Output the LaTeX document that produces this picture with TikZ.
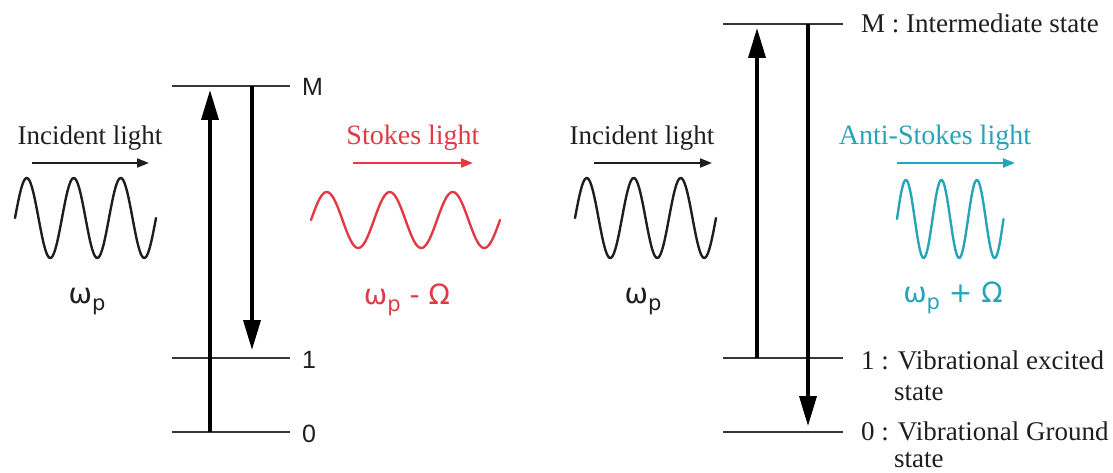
\documentclass[tikz,border=0pt]{standalone}
\usepackage{fontspec}
\setmainfont{Liberation Serif}
\newfontfamily\lsans{Liberation Sans}
\newfontfamily\dsans{DejaVu Sans}
\usetikzlibrary{arrows.meta}
\definecolor{stokesred}{RGB}{226,58,68}
\definecolor{ascyan}{RGB}{38,164,184}
\definecolor{levelgray}{RGB}{55,55,55}
\definecolor{inkblack}{RGB}{30,30,30}
\newcommand\myomegap{ω\raisebox{-7pt}{\fontsize{21}{21}\selectfont p}}
\begin{document}
\begin{tikzpicture}[x=1pt,y=-1pt,
  level/.style={draw=levelgray,line width=2.8pt},
  trans/.style={draw=black,line width=3.6pt,-{Triangle[length=30pt,width=17pt]}},
  dirarrow/.style={line width=2pt,-{Triangle[length=12pt,width=9pt]}},
  wave/.style={line width=2.4pt,line join=round,line cap=round},
  serif/.style={font=\fontsize{27}{32}\selectfont,inner sep=0pt,text=inkblack},
  coltext/.style={font=\fontsize{28}{32}\selectfont,inner sep=0pt},
  levnum/.style={font=\lsans\fontsize{25}{28}\selectfont,inner sep=0pt,text=inkblack},
  freq/.style={font=\dsans\fontsize{28}{32}\selectfont,inner sep=0pt}]
\useasboundingbox (0,0) rectangle (1113,473);

% ---------------- Left: Stokes ----------------
\coordinate (LM-w) at (172,86);  \coordinate (LM-e) at (290,86);
\coordinate (L1-w) at (172,358); \coordinate (L1-e) at (290,358);
\coordinate (L0-w) at (172,432); \coordinate (L0-e) at (290,432);
\draw[level] (LM-w) -- (LM-e);
\draw[level] (L1-w) -- (L1-e);
\draw[level] (L0-w) -- (L0-e);
\node[levnum,anchor=west] (LMlab) at (302,87) {M};
\node[levnum,anchor=west] (L1lab) at (302,360) {1};
\node[levnum,anchor=west] (L0lab) at (302,434) {0};

\coordinate (Lup-s) at (210,432); \coordinate (Lup-e) at (210,90);
\coordinate (Ldn-s) at (252,86);  \coordinate (Ldn-e) at (252,350);
\draw[trans] (Lup-s) -- (Lup-e);
\draw[trans] (Ldn-s) -- (Ldn-e);

\node[serif,anchor=base] (inc1) at (90,145) {Incident light};
\coordinate (inc1-a) at (32,163); \coordinate (inc1-b) at (149,163);
\draw[dirarrow,draw=inkblack,fill=inkblack] (inc1-a) -- (inc1-b);
\draw[wave,draw=inkblack] plot[domain=15:156,samples=140,smooth] (\x,{218-40*sin((\x-15)/47*360)});
\node[freq,anchor=base,text=inkblack] (w1) at (87,303) {\myomegap};

\node[coltext,anchor=base,text=stokesred] (stk) at (413,145) {Stokes light};
\coordinate (stk-a) at (353,163); \coordinate (stk-b) at (473,163);
\draw[dirarrow,draw=stokesred,fill=stokesred] (stk-a) -- (stk-b);
\draw[wave,draw=stokesred] plot[domain=311:500,samples=160,smooth] (\x,{220-28*sin((\x-311)/63*360)});
\node[freq,anchor=base,text=stokesred] (w2) at (407,304) {\myomegap\ - Ω};

% ---------------- Right: Anti-Stokes ----------------
\coordinate (RM-w) at (723,24);  \coordinate (RM-e) at (843,24);
\coordinate (R1-w) at (723,358); \coordinate (R1-e) at (843,358);
\coordinate (R0-w) at (723,432); \coordinate (R0-e) at (843,432);
\draw[level] (RM-w) -- (RM-e);
\draw[level] (R1-w) -- (R1-e);
\draw[level] (R0-w) -- (R0-e);
\node[serif,anchor=base west] (RMlab) at (861,33) {M : Intermediate state};
\node[serif,anchor=base west] (R1lab) at (861,369) {1 : Vibrational excited};
\node[serif,anchor=base west] (R1lab2) at (894,400) {state};
\node[serif,anchor=base west] (R0lab) at (861,440) {0 : Vibrational Ground};
\node[serif,anchor=base west] (R0lab2) at (894,467) {state};

\coordinate (Rup-s) at (757,358); \coordinate (Rup-e) at (757,28);
\coordinate (Rdn-s) at (808,24);  \coordinate (Rdn-e) at (808,426);
\draw[trans] (Rup-s) -- (Rup-e);
\draw[trans] (Rdn-s) -- (Rdn-e);

\node[serif,anchor=base] (inc2) at (642,145) {Incident light};
\coordinate (inc2-a) at (594,163); \coordinate (inc2-b) at (712,163);
\draw[dirarrow,draw=inkblack,fill=inkblack] (inc2-a) -- (inc2-b);
\draw[wave,draw=inkblack] plot[domain=575:716,samples=140,smooth] (\x,{218-40*sin((\x-575)/47*360)});
\node[freq,anchor=base,text=inkblack] (w3) at (643,303) {\myomegap};

\node[coltext,anchor=base,text=ascyan] (ast) at (935,145) {Anti-Stokes light};
\coordinate (ast-a) at (897,163); \coordinate (ast-b) at (1015,163);
\draw[dirarrow,draw=ascyan,fill=ascyan] (ast-a) -- (ast-b);
\draw[wave,draw=ascyan] plot[domain=897:1003.5,samples=140,smooth] (\x,{219-39*sin((\x-897)/35.5*360)});
\node[freq,anchor=base,text=ascyan] (w4) at (953,302) {\myomegap\ + Ω};
\end{tikzpicture}
\end{document}
